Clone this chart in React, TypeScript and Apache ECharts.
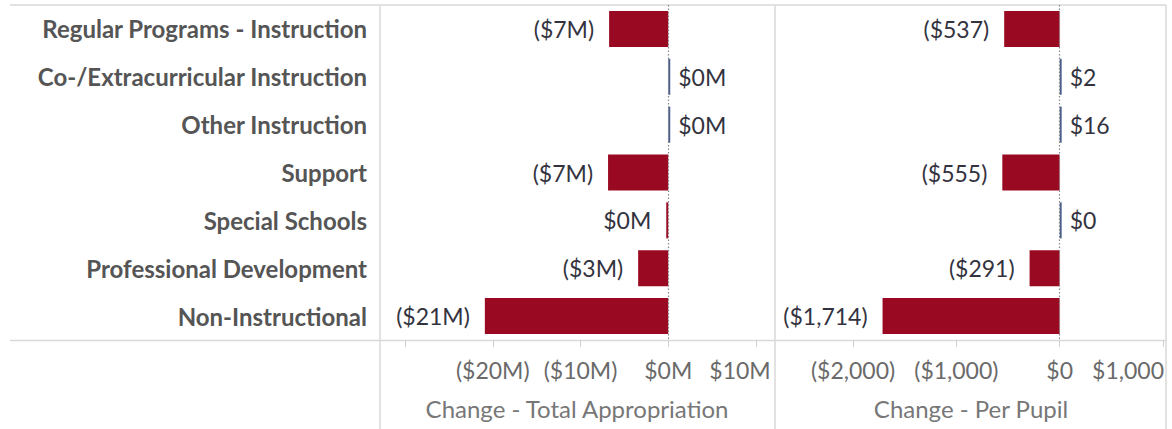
import React, { useEffect, useRef } from 'react';
import * as echarts from 'echarts';

const categories = [
  'Regular Programs - Instruction',
  'Co-/Extracurricular Instruction',
  'Other Instruction',
  'Support',
  'Special Schools',
  'Professional Development',
  'Non-Instructional',
];
// Change - Total Appropriation, in millions of dollars
const totalChangeM = [-6.74, 0.03, 0.02, -6.86, -0.04, -3.43, -20.9];
// Change - Per Pupil, in dollars
const perPupilChange = [-537, 2, 16, -555, 0, -291, -1714];
const axisTitles = ['Change - Total Appropriation', 'Change - Per Pupil'];

const NEG = '#990a22';
const POS = '#4a5f8c';
const FONT = 'Lato, "Open Sans", sans-serif';

function fmtM(v: number): string {
  const r = Math.round(v);
  return r < 0 ? `($${-r}M)` : `$${r}M`;
}
function fmtD(v: number): string {
  const r = Math.round(v);
  const s = Math.abs(r).toLocaleString('en-US');
  return r < 0 ? `($${s})` : `$${s}`;
}

function makeData(vals: number[]) {
  return vals.map((v) => ({
    value: v,
    itemStyle: { color: v < 0 ? NEG : POS },
    label: { position: v < 0 ? 'left' : 'right', distance: v < 0 ? 15 : 8 },
  }));
}

export default function App() {
  const ref = useRef<HTMLDivElement>(null);
  useEffect(() => {
    document.body.style.margin = '0';
    const chart = echarts.init(ref.current!, undefined, { renderer: 'svg' });
    const tickLabelStyle = { fontFamily: FONT, fontSize: 23, color: '#6a6a6a' };
    const frame = '#d9d9d9';
    const option: any = {
      animation: false,
      grid: [
        { left: 405, width: 351, top: 5, height: 335, containLabel: false },
        { left: 853, width: 310, top: 5, height: 335, containLabel: false },
      ],
      xAxis: [
        {
          gridIndex: 0,
          type: 'value',
          min: -30,
          max: 10,
          interval: 10,
          splitLine: { show: false },
          axisLine: { show: false },
          axisTick: { show: true, length: 7, lineStyle: { color: '#cfcfcf' } },
          axisLabel: {
            ...tickLabelStyle,
            margin: 18,
            formatter: (v: number) => (v <= -30 ? '' : v >= 10 ? `{r|${fmtM(v)}}` : fmtM(v)),
            rich: { r: { ...tickLabelStyle, padding: [0, 32, 0, 0] } },
          },
        },
        {
          gridIndex: 1,
          type: 'value',
          min: -2000,
          max: 1000,
          interval: 1000,
          splitLine: { show: false },
          axisLine: { show: false },
          axisTick: { show: true, length: 7, lineStyle: { color: '#cfcfcf' } },
          axisLabel: {
            ...tickLabelStyle,
            margin: 18,
            formatter: (v: number) => (v >= 1000 ? `{r|${fmtD(v)}}` : fmtD(v)),
            rich: { r: { ...tickLabelStyle, padding: [0, 70, 0, 0] } },
          },
        },
      ],
      yAxis: [
        {
          gridIndex: 0,
          type: 'category',
          data: categories,
          inverse: true,
          axisLine: { show: false },
          axisTick: { show: false },
          axisLabel: {
            margin: 38,
            fontFamily: FONT,
            fontWeight: 'bold',
            fontSize: 24,
            color: '#555555',
          },
        },
        {
          gridIndex: 1,
          type: 'category',
          data: categories,
          inverse: true,
          axisLine: { show: false },
          axisTick: { show: false },
          axisLabel: { show: false },
        },
      ],
      series: [
        {
          type: 'bar',
          xAxisIndex: 0,
          yAxisIndex: 0,
          barWidth: 36,
          barMinHeight: 2,
          data: makeData(totalChangeM),
          label: {
            show: true,
            fontFamily: FONT,
            fontSize: 23,
            color: '#333340',
            formatter: (p: any) => fmtM(p.value),
          },
          markLine: {
            silent: true,
            symbol: 'none',
            label: { show: false },
            lineStyle: { type: [1.5, 2], color: '#888', width: 1.2 },
            data: [{ xAxis: 0 }],
          },
        },
        {
          type: 'bar',
          xAxisIndex: 1,
          yAxisIndex: 1,
          barWidth: 36,
          barMinHeight: 2,
          data: makeData(perPupilChange),
          label: {
            show: true,
            fontFamily: FONT,
            fontSize: 23,
            color: '#333340',
            formatter: (p: any) => fmtD(p.value),
          },
          markLine: {
            silent: true,
            symbol: 'none',
            label: { show: false },
            lineStyle: { type: [1.5, 2], color: '#888', width: 1.2 },
            data: [{ xAxis: 0 }],
          },
        },
      ],
      graphic: [
        { type: 'line', silent: true, shape: { x1: 10, y1: 5, x2: 1166, y2: 5 }, style: { stroke: '#e2e2e2', lineWidth: 2 } },
        { type: 'line', silent: true, shape: { x1: 10, y1: 340.5, x2: 1166, y2: 340.5 }, style: { stroke: frame, lineWidth: 1.5 } },
        { type: 'line', silent: true, shape: { x1: 380, y1: 5, x2: 380, y2: 429 }, style: { stroke: frame, lineWidth: 1.5 } },
        { type: 'line', silent: true, shape: { x1: 775, y1: 5, x2: 775, y2: 429 }, style: { stroke: frame, lineWidth: 1.5 } },
        { type: 'line', silent: true, shape: { x1: 1166, y1: 5, x2: 1166, y2: 429 }, style: { stroke: frame, lineWidth: 1.5 } },
        {
          type: 'text',
          silent: true,
          x: 577,
          y: 408,
          style: { text: axisTitles[0], fontFamily: FONT, fontSize: 24, fill: '#777777', align: 'center', verticalAlign: 'middle' },
        },
        {
          type: 'text',
          silent: true,
          x: 971,
          y: 408,
          style: { text: axisTitles[1], fontFamily: FONT, fontSize: 24, fill: '#777777', align: 'center', verticalAlign: 'middle' },
        },
      ],
    };
    chart.setOption(option);
    return () => chart.dispose();
  }, []);
  return <div ref={ref} style={{ position: 'absolute', left: 0, top: 0, width: 1172, height: 429 }} />;
}
